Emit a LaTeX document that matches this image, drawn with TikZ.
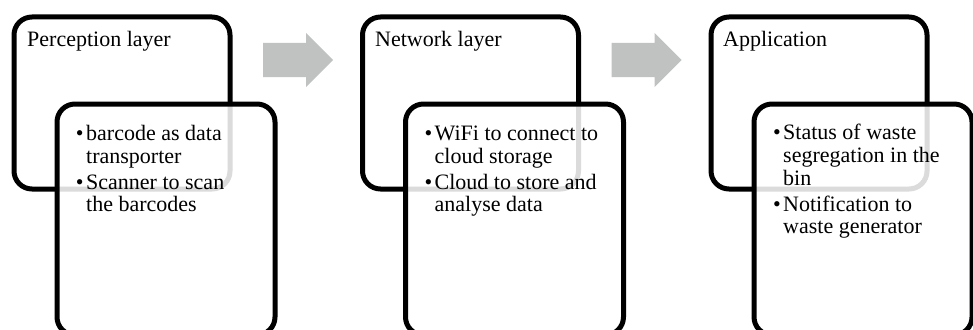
\documentclass[tikz,border=0pt]{standalone}
\usepackage{fontspec}
\setmainfont{Liberation Serif}
\begin{document}
\begin{tikzpicture}[x=1pt,y=-1pt,
  backbox/.style={draw=black, line width=5pt, rounded corners=18pt, rectangle, inner sep=0pt},
  frontbox/.style={draw=black, line width=5pt, rounded corners=18pt, rectangle, inner sep=0pt, fill=white, fill opacity=0.86, draw opacity=1},
  txt/.style={anchor=base west, inner sep=0pt, font=\fontsize{22}{23}\selectfont},
  flowarrow/.style={fill={rgb,255:red,192;green,194;blue,193}, draw=none}
]
\useasboundingbox (0,0) rectangle (973,329);
\clip (0,0) rectangle (973,329);
\newcommand{\bul}{\llap{•\hspace{2.5pt}}}
% group 1
\node[backbox, minimum width=216pt, minimum height=172pt] (back1) at (122,103) {};
\node[txt] (t1) at (27,47) {Perception layer};
\node[frontbox, minimum width=218pt, minimum height=231pt] (front1) at (166,219.5) {};
\node[txt] (l11) at (86,140.5) {\bul barcode as data};
\node[txt] (l12) at (86,163) {transporter};
\node[txt] (l13) at (86,189) {\bul Scanner to scan};
\node[txt] (l14) at (86,211.5) {the barcodes};
% group 2
\node[backbox, minimum width=216pt, minimum height=172pt] (back2) at (470.5,103) {};
\node[txt] (t2) at (375,47) {Network layer};
\node[frontbox, minimum width=218pt, minimum height=231pt] (front2) at (514.5,219.5) {};
\node[txt] (l21) at (434.5,140.5) {\bul WiFi to connect to};
\node[txt] (l22) at (434.5,163) {cloud storage};
\node[txt] (l23) at (434.5,189) {\bul Cloud to store and};
\node[txt] (l24) at (434.5,211.5) {analyse data};
% group 3
\node[backbox, minimum width=216pt, minimum height=172pt] (back3) at (819,103) {};
\node[txt] (t3) at (723,47) {Application};
\node[frontbox, minimum width=218pt, minimum height=231pt] (front3) at (863,219.5) {};
\node[txt] (l31) at (783,139.5) {\bul Status of waste};
\node[txt] (l32) at (783,162.5) {segregation in the};
\node[txt] (l33) at (783,185.5) {bin};
\node[txt] (l34) at (783,211.5) {\bul Notification to};
\node[txt] (l35) at (783,233) {waste generator};
% arrows
\fill[flowarrow] (263,43) -- (306,43) -- (306,33) -- (333,60) -- (306,87) -- (306,77) -- (263,77) -- cycle;
\fill[flowarrow] (611.5,43) -- (654.5,43) -- (654.5,33) -- (681.5,60) -- (654.5,87) -- (654.5,77) -- (611.5,77) -- cycle;
\end{tikzpicture}
\end{document}
